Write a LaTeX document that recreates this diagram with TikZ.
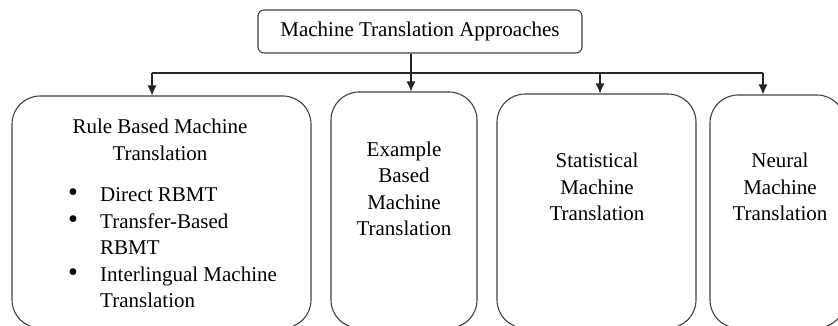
\documentclass[tikz,border=0pt]{standalone}
\usepackage{fontspec}
\setmainfont{Liberation Serif}
\usetikzlibrary{arrows.meta,positioning}

\tikzset{
    kasten/.style={draw=black!75, line width=1.1pt, rounded corners=28pt, inner sep=0pt},
    kopf/.style={draw=black!75, line width=1.1pt, rounded corners=6pt, inner sep=0pt,
                 minimum width=324pt, minimum height=43pt},
    pfeil/.style={draw=black!85, line width=1.1pt, -{Latex[length=10pt,width=9pt]}},
    linie/.style={draw=black!85, line width=1.1pt},
    txt/.style={align=center, font=\fontsize{21}{26.5}\selectfont, inner sep=0pt}
}
\newcommand{\punkt}{\scalebox{1.35}{\textbullet}}

\begin{document}
\begin{tikzpicture}[x=1pt,y=-1pt]
            \clip (0,0) rectangle (838,325);

            % Oberster Knoten
            \node[kopf] (mta) at (420,31.5) {};
            \node[txt] (mtatext) at (mta.center) {Machine Translation Approaches};

            % Die vier Kaesten
            \node[kasten, minimum width=299pt, minimum height=232pt] (rbmt) at (161.5,212) {};
            \node[kasten, minimum width=146pt, minimum height=236pt] (ebmt) at (404,210) {};
            \node[kasten, minimum width=199pt, minimum height=234pt] (smt)  at (596.5,211) {};
            \node[kasten, minimum width=135pt, minimum height=233pt] (nmt)  at (777.5,211.5) {};

            % Texte in den Kaesten
            \node[txt] (rbmttitel) at (160,140) {Rule Based Machine\\Translation};
            \node[txt, anchor=north west] (rbmtliste) at (68,183) {%
                \begin{tabular}{@{}p{32pt}@{}l@{}}
                \punkt & Direct RBMT\\
                \punkt & Transfer-Based\\
                       & RBMT\\
                \punkt & Interlingual Machine\\
                       & Translation
                \end{tabular}};
            \node[txt] (ebmttext) at (404,189) {Example\\Based\\Machine\\Translation};
            \node[txt] (smttext)  at (597,187) {Statistical\\Machine\\Translation};
            \node[txt] (nmttext)  at (780,187) {Neural\\Machine\\Translation};

            % Verteilerlinie
            \coordinate (v1) at (152,73);
            \coordinate (v2) at (411,73);
            \coordinate (v3) at (600,73);
            \coordinate (v4) at (763,73);

            \draw[linie] (mta.south -| v2) -- (v2);
            \draw[linie] (v1) -- (v4);

            % Pfeile nach unten
            \draw[pfeil] (v1) -- (v1 |- rbmt.north);
            \draw[pfeil] (v2) -- (v2 |- ebmt.north);
            \draw[pfeil] (v3) -- (v3 |- smt.north);
            \draw[pfeil] (v4) -- (v4 |- nmt.north);
\end{tikzpicture}
\end{document}
